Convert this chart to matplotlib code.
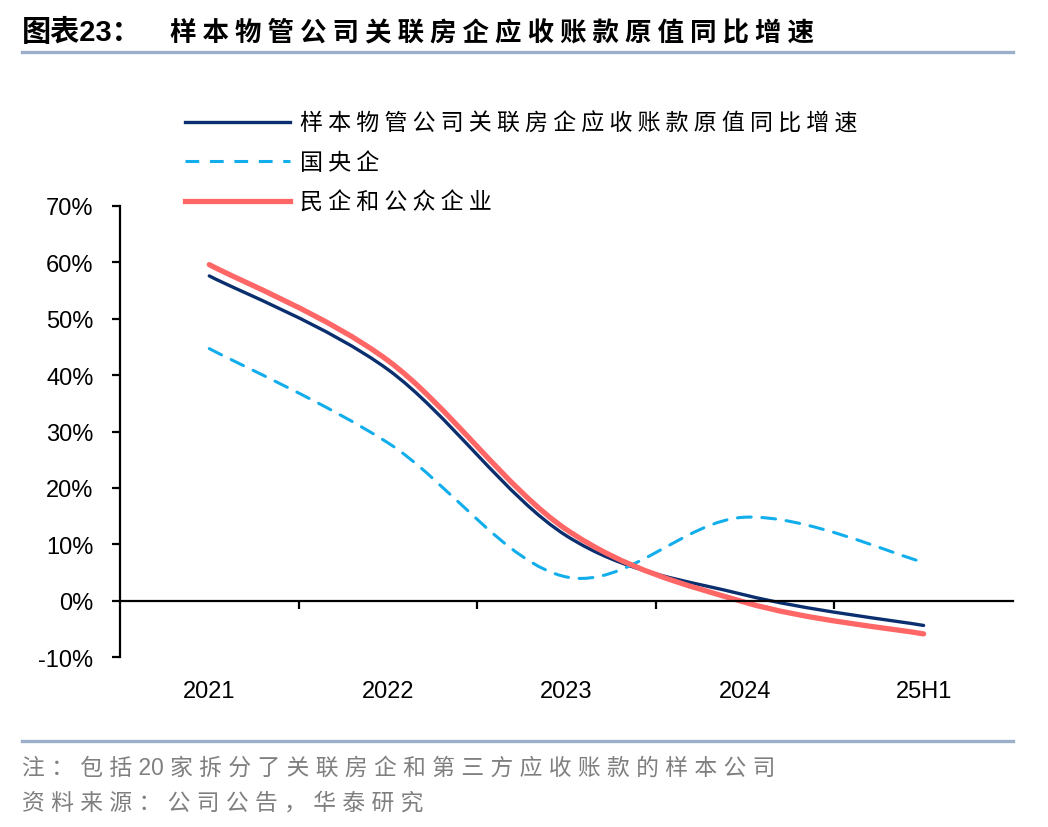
import numpy as np
import matplotlib
matplotlib.use('Agg')
import matplotlib.pyplot as plt
from matplotlib.path import Path
from matplotlib.patches import PathPatch
from matplotlib.lines import Line2D

plt.rcParams['font.family'] = ['Liberation Sans', 'Noto Sans CJK SC', 'DejaVu Sans']

# data (%)
years = ['2021', '2022', '2023', '2024', '25H1']
sample = [57.6, 41.0, 11.5, 1.0, -4.4]
soe = [44.7, 28.0, 4.2, 14.8, 6.8]
private = [59.6, 42.6, 12.6, -0.3, -5.9]

names = ['样本物管公司关联房企应收账款原值同比增速', '国央企', '民企和公众企业']
colors = ['#0B2F6E', '#12AEEB', '#FF6666']
widths = [2.4, 2.2, 3.8]
styles = ['-', (0, (4.5, 3.5)), '-']

fam = ['Liberation Sans', 'Noto Sans CJK SC', 'DejaVu Sans']
cjk = ['Noto Sans CJK SC', 'Liberation Sans', 'DejaVu Sans']


def spaced(s):
    # the reference uses wide character spacing for the chinese text
    out = ' '.join(list(s))
    return out.replace('2 0', '20')


def smooth_path(xs, ys):
    # excel-style smoothed line: catmull-rom segments as cubic beziers
    p = np.column_stack([xs, ys]).astype(float)
    ext = np.vstack([p[0], p, p[-1]])
    verts = [p[0]]
    codes = [Path.MOVETO]
    for i in range(len(p) - 1):
        p0, p1, p2, p3 = ext[i], ext[i + 1], ext[i + 2], ext[i + 3]
        c1 = p1 + (p2 - p0) / 6.0
        c2 = p2 - (p3 - p1) / 6.0
        verts += [c1, c2, p2]
        codes += [Path.CURVE4] * 3
    return Path(verts, codes)


fig = plt.figure(figsize=(10.48, 8.28), dpi=100)
ax = fig.add_axes([0.1145, 0.2053, 0.852, 0.5447])

x = np.arange(len(years))
handles = []
for ys, c, lw, ls, nm in zip([sample, soe, private], colors, widths, styles, names):
    patch = PathPatch(smooth_path(x, ys), facecolor='none', edgecolor=c,
                      lw=lw, linestyle=ls, capstyle='round', joinstyle='round')
    ax.add_patch(patch)
    handles.append(Line2D([], [], color=c, lw=lw, linestyle=ls, label=spaced(nm)))

ax.set_xlim(-0.5, len(years) - 0.5)
ax.set_ylim(-10, 70)
ax.set_yticks(np.arange(-10, 71, 10))
ax.set_yticklabels([f'{v}%' for v in range(-10, 71, 10)])

ax.spines['top'].set_visible(False)
ax.spines['right'].set_visible(False)
ax.spines['left'].set_linewidth(1.6)
ax.spines['bottom'].set_position(('data', 0))
ax.spines['bottom'].set_linewidth(1.6)

ax.set_xticks(np.arange(0.5, len(years) - 1, 1.0))
ax.set_xticklabels([])
ax.set_xticks(x, minor=True)
ax.set_xticklabels(years, minor=True)
ax.tick_params(axis='x', which='major', direction='out', length=6, width=1.6)
ax.tick_params(axis='x', which='minor', length=0, pad=57, labelsize=17)
ax.tick_params(axis='y', direction='out', length=6, width=1.6, pad=13, labelsize=17)

fig.legend(handles=handles, loc='upper left', bbox_to_anchor=(0.177, 0.864),
           frameon=False, prop={'family': cjk, 'size': 16.6},
           handlelength=4.55, handletextpad=0.43, labelspacing=0.72,
           borderpad=0, borderaxespad=0)

# title and rules
fig.text(0.021, 1 - 33 / 828, '图表23：', fontsize=21, fontweight='bold',
         family=fam, va='center', ha='left')
fig.text(170 / 1048, 1 - 33 / 828, spaced('样本物管公司关联房企应收账款原值同比增速'),
         fontsize=19.1, fontweight='bold', family=cjk, va='center', ha='left')
fig.add_artist(Line2D([0.021, 0.967], [1 - 53 / 828] * 2, color='#9BB0C8', lw=2.4))
fig.add_artist(Line2D([0.021, 0.967], [1 - 742 / 828] * 2, color='#9BB0C8', lw=2.4))

fig.text(0.021, 1 - 768 / 828, spaced('注：包括20家拆分了关联房企和第三方应收账款的样本公司'),
         fontsize=16.4, family=fam, color='#7F7F7F', va='center', ha='left')
fig.text(0.021, 1 - 803 / 828, spaced('资料来源：公司公告，华泰研究'),
         fontsize=16.4, family=fam, color='#7F7F7F', va='center', ha='left')

fig.savefig('out.png', dpi=100)
